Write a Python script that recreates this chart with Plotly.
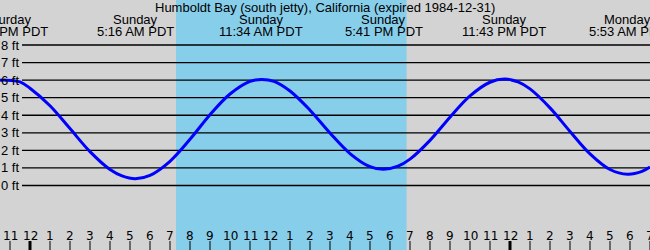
import plotly.graph_objects as go

# ---- data (hours since Sunday 00:00 PDT, tide height in ft) ----
hours = [-1.5, -1.22, -0.5, 0, 1, 2, 3, 4, 4.6, 5.27, 6, 7, 8, 9, 10, 11, 11.57,
         12.2, 13, 14, 15, 16, 17, 17.68, 18.4, 19, 20, 21, 22, 23, 23.72, 24.4,
         25, 26, 27, 28, 29, 29.88, 30.6, 31]
heights = [5.99, 6.00, 5.90, 5.54, 4.54, 3.24, 1.93, 0.91, 0.55, 0.39, 0.58, 1.38,
           2.63, 4.03, 5.21, 5.93, 6.04, 5.93, 5.38, 4.29, 2.99, 1.82, 1.07, 0.92,
           1.10, 1.50, 2.57, 3.89, 5.10, 5.88, 6.06, 5.90, 5.50, 4.42, 3.08, 1.80,
           0.91, 0.64, 0.80, 1.05]

extreme_hours = [-1.22, 5.27, 11.57, 17.68, 23.72, 29.88]
extreme_days = ["Saturday", "Sunday", "Sunday", "Sunday", "Sunday", "Monday"]
extreme_times = ["10:47 PM PDT", "5:16 AM PDT", "11:34 AM PDT", "5:41 PM PDT",
                 "11:43 PM PDT", "5:53 AM PDT"]

daylight = [7.3, 18.83]

ft_levels = [0, 1, 2, 3, 4, 5, 6, 7, 8]
ft_labels = ["0 ft", "1 ft", "2 ft", "3 ft", "4 ft", "5 ft", "6 ft", "7 ft", "8 ft"]

hour_ticks = list(range(-1, 32))
hour_labels = ["11", "12", "1", "2", "3", "4", "5", "6", "7", "8", "9", "10", "11",
               "12", "1", "2", "3", "4", "5", "6", "7", "8", "9", "10", "11",
               "12", "1", "2", "3", "4", "5", "6", "7"]
midnights = [0, 24]

title = "Humboldt Bay (south jetty), California (expired 1984-12-31)"

W, H = 650, 250
X_RANGE = [-1.5, 31.0]
Y_RANGE = [-3.673, 10.564]

fig = go.Figure()
fig.add_trace(go.Scatter(x=hours, y=heights, mode="lines",
                         line=dict(color="#0000ff", width=3, shape="spline", smoothing=1.0),
                         hoverinfo="skip", showlegend=False))

shapes = []
shapes.append(dict(type="rect", xref="x", yref="paper", x0=daylight[0], x1=daylight[1],
                   y0=0, y1=1, fillcolor="#87ceeb", line=dict(width=0), layer="below"))
for lv in ft_levels:
    shapes.append(dict(type="line", xref="paper", yref="y", x0=22 / W, x1=1, y0=lv, y1=lv,
                       line=dict(color="#000000", width=1.3), layer="below"))
for h in hour_ticks:
    shapes.append(dict(type="line", xref="x", yref="paper", x0=h, x1=h, y0=0, y1=9 / H,
                       line=dict(color="#000000", width=3 if h in midnights else 1)))

ann = []
ann.append(dict(text=title, xref="paper", yref="paper", x=0.5, y=1 - 7.5 / H,
                xanchor="center", yanchor="middle", showarrow=False,
                font=dict(family="Liberation Sans", size=13, color="#000000")))
for h, d, t in zip(extreme_hours, extreme_days, extreme_times):
    ann.append(dict(text=d, xref="x", yref="paper", x=h, y=1 - 19.5 / H,
                    xanchor="center", yanchor="middle", showarrow=False,
                    font=dict(family="Liberation Sans", size=13, color="#000000")))
    ann.append(dict(text=t, xref="x", yref="paper", x=h, y=1 - 31.5 / H,
                    xanchor="center", yanchor="middle", showarrow=False,
                    font=dict(family="Liberation Sans", size=13, color="#000000")))
for lv, lab in zip(ft_levels, ft_labels):
    ann.append(dict(text=lab, xref="paper", yref="y", x=21 / W, y=lv,
                    xanchor="right", yanchor="middle", showarrow=False,
                    font=dict(family="Liberation Sans", size=13, color="#000000")))
for h, lab in zip(hour_ticks, hour_labels):
    ann.append(dict(text=lab, xref="x", yref="paper", x=h, y=(H - 235.5) / H,
                    xanchor="center", yanchor="middle", showarrow=False,
                    font=dict(family="DejaVu Sans", size=12, color="#000000")))

fig.update_layout(
    width=W, height=H, autosize=False,
    margin=dict(l=0, r=0, t=0, b=0, pad=0),
    paper_bgcolor="#d3d3d3", plot_bgcolor="#d3d3d3",
    xaxis=dict(range=X_RANGE, visible=False, fixedrange=True),
    yaxis=dict(range=Y_RANGE, visible=False, fixedrange=True),
    shapes=shapes, annotations=ann, showlegend=False,
)

fig.write_html("out.html", config={"displayModeBar": False})
